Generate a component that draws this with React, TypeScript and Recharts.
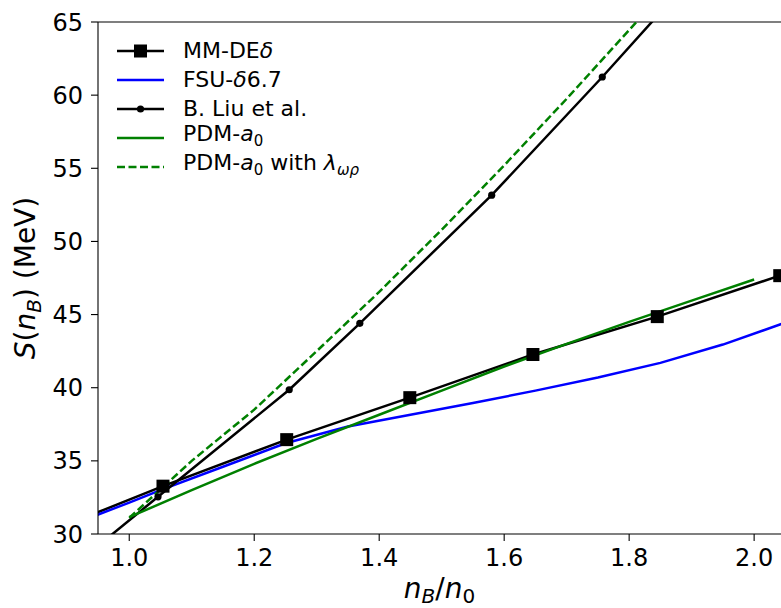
import { LineChart, Line, XAxis, YAxis, ReferenceLine } from 'recharts';

// MM-DEδ (black squares)
const mmX = [0.857, 1.054, 1.252, 1.449, 1.646, 1.845, 2.041];
const mmY = [29.9, 33.27, 36.45, 39.32, 42.27, 44.86, 47.66];

// FSU-δ6.7 (blue)
const fsuX = [0.9, 1.0, 1.05, 1.15, 1.25, 1.35, 1.45, 1.55, 1.65, 1.75, 1.85, 1.95, 2.05];
const fsuY = [30.5, 32.15, 33.0, 34.6, 36.2, 37.35, 38.15, 38.95, 39.8, 40.7, 41.7, 42.95, 44.45];

// B. Liu et al. (black, small dots)
const liuX = [0.85, 1.046, 1.256, 1.369, 1.58, 1.757, 1.95];
const liuY = [25.7, 32.54, 39.86, 44.4, 53.16, 61.24, 70.4];

// PDM-a0 (green solid)
const pdmX = [1.0, 1.1, 1.2, 1.3, 1.4, 1.5, 1.6, 1.7, 1.8, 1.9, 2.0];
const pdmY = [31.15, 33.0, 34.8, 36.5, 38.15, 39.8, 41.45, 43.0, 44.5, 45.95, 47.4];

// PDM-a0 with lambda (green dashed)
const pdmLX = [1.0, 1.1, 1.2, 1.3, 1.4, 1.5, 1.6, 1.7, 1.8, 1.9, 2.0];
const pdmLY = [31.1, 35.0, 38.5, 42.5, 46.55, 50.8, 55.2, 59.75, 64.45, 69.2, 74.0];

const xTicks = [1.0, 1.2, 1.4, 1.6, 1.8, 2.0];
const yTicks = [30, 35, 40, 45, 50, 55, 60, 65];

const rows = (xs: number[], ys: number[]) => xs.map((x, i) => ({ x, y: ys[i] }));

const FONT = 'DejaVu Sans';
const LW = 2.5;
const tickStyle = { fill: '#000', fontSize: 24, fontFamily: FONT };

function SquareDot(props: any) {
  const { cx, cy, index } = props;
  if (cx == null || cy == null) return <g key={`sq-${index}`} />;
  return <rect key={`sq-${index}`} x={cx - 6.5} y={cy - 6.5} width={13} height={13} fill="#000" />;
}

function YTitle({ viewBox }: any) {
  const cx = 35;
  const cy = viewBox.y + viewBox.height / 2;
  return (
    <text x={cx} y={cy} transform={`rotate(-90 ${cx} ${cy})`} textAnchor="middle" fontSize={28} fontFamily={FONT} fill="#000">
      <tspan fontStyle="italic">S</tspan>
      <tspan>(</tspan>
      <tspan fontStyle="italic">n</tspan>
      <tspan fontStyle="italic" fontSize={20} dy={6}>B</tspan>
      <tspan dy={-6}>) (MeV)</tspan>
    </text>
  );
}

function XTitle({ viewBox }: any) {
  const cx = viewBox.x + viewBox.width / 2;
  const cy = viewBox.y + 64;
  return (
    <text x={cx} y={cy} textAnchor="middle" fontSize={28} fontFamily={FONT} fill="#000">
      <tspan fontStyle="italic">n</tspan>
      <tspan fontStyle="italic" fontSize={20} dy={5}>B</tspan>
      <tspan dy={-5}>/</tspan>
      <tspan fontStyle="italic">n</tspan>
      <tspan fontSize={20} dy={5}>0</tspan>
    </text>
  );
}

const subStyle = { fontSize: 15 };

const legendItems = [
  { key: 'mm', color: '#000', dash: undefined, marker: 'square', label: <>MM-DE<i>δ</i></> },
  { key: 'fsu', color: '#0000ff', dash: undefined, marker: null, label: <>FSU-<i>δ</i>6.7</> },
  { key: 'liu', color: '#000', dash: undefined, marker: 'dot', label: <>B. Liu et al.</> },
  { key: 'pdm', color: '#008000', dash: undefined, marker: null, label: <>PDM-<i>a</i><sub style={subStyle}>0</sub></> },
  {
    key: 'pdml',
    color: '#008000',
    dash: '8 3.5',
    marker: null,
    label: (
      <>
        PDM-<i>a</i><sub style={subStyle}>0</sub> with <i>λ</i>
        <sub style={subStyle}><i>ωρ</i></sub>
      </>
    ),
  },
];

function LegendBox() {
  return (
    <div style={{ position: 'absolute', left: 117, top: 36, fontFamily: FONT, fontSize: 22, color: '#000' }}>
      {legendItems.map((it) => (
        <div key={it.key} style={{ height: 29, display: 'flex', alignItems: 'center', whiteSpace: 'nowrap' }}>
          <svg width={47} height={20} style={{ marginRight: 19, flex: 'none' }}>
            <line x1={0} y1={10} x2={47} y2={10} stroke={it.color} strokeWidth={LW} strokeDasharray={it.dash} />
            {it.marker === 'square' && <rect x={17} y={3.5} width={13} height={13} fill="#000" />}
            {it.marker === 'dot' && <circle cx={23.5} cy={10} r={3.6} fill="#000" />}
          </svg>
          <span style={{ lineHeight: '22px' }}>{it.label}</span>
        </div>
      ))}
    </div>
  );
}

export default function App() {
  return (
    <div style={{ position: 'fixed', left: 0, top: 0, width: 781, height: 608, background: '#fff' }}>
      <LineChart width={781} height={608} margin={{ top: 22, right: 0, bottom: 0, left: 0 }} style={{ fontFamily: FONT }}>
        <XAxis
          dataKey="x"
          type="number"
          domain={[0.95, 2.043]}
          allowDataOverflow
          ticks={xTicks}
          tickFormatter={(v: number) => v.toFixed(1)}
          tick={tickStyle}
          tickSize={7}
          tickMargin={8}
          height={74}
          axisLine={{ stroke: '#000', strokeWidth: 1.1 }}
          tickLine={{ stroke: '#000', strokeWidth: 1.1 }}
          label={<XTitle />}
        />
        <YAxis
          dataKey="y"
          type="number"
          domain={[30, 65]}
          allowDataOverflow
          ticks={yTicks}
          tick={tickStyle}
          tickSize={7}
          tickMargin={8}
          width={98}
          axisLine={{ stroke: '#000', strokeWidth: 1.1 }}
          tickLine={{ stroke: '#000', strokeWidth: 1.1 }}
          label={<YTitle />}
        />
        <ReferenceLine y={65} stroke="#000" strokeWidth={1.1} />
        <Line
          data={rows(mmX, mmY)}
          dataKey="y"
          type="linear"
          stroke="#000"
          strokeWidth={LW}
          dot={(p: any) => <SquareDot {...p} />}
          activeDot={false}
          isAnimationActive={false}
        />
        <Line
          data={rows(fsuX, fsuY)}
          dataKey="y"
          type="linear"
          stroke="#0000ff"
          strokeWidth={LW}
          dot={false}
          activeDot={false}
          isAnimationActive={false}
        />
        <Line
          data={rows(liuX, liuY)}
          dataKey="y"
          type="linear"
          stroke="#000"
          strokeWidth={LW}
          dot={{ r: 3.6, fill: '#000', stroke: 'none' }}
          activeDot={false}
          isAnimationActive={false}
        />
        <Line
          data={rows(pdmX, pdmY)}
          dataKey="y"
          type="linear"
          stroke="#008000"
          strokeWidth={LW}
          dot={false}
          activeDot={false}
          isAnimationActive={false}
        />
        <Line
          data={rows(pdmLX, pdmLY)}
          dataKey="y"
          type="linear"
          stroke="#008000"
          strokeWidth={LW}
          strokeDasharray="8 3.5"
          dot={false}
          activeDot={false}
          isAnimationActive={false}
        />
      </LineChart>
      <LegendBox />
    </div>
  );
}
